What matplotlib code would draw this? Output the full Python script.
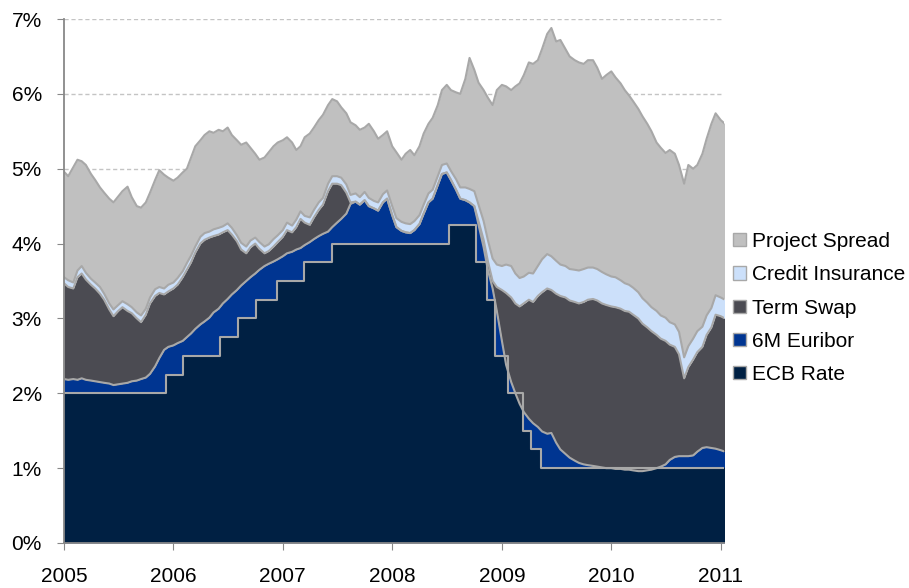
import numpy as np
import pandas as pd
import matplotlib
matplotlib.use('Agg')
import matplotlib.pyplot as plt
import matplotlib.dates as mdates
from matplotlib.patches import Patch

plt.rcParams['font.family'] = ['Liberation Sans', 'DejaVu Sans']

# half-monthly observations (1st and 15th), Jan 2005 .. mid Jan 2011
dates = pd.date_range('2005-01-01', periods=146, freq='SMS')

# ECB main refinancing rate, step changes
ecb_dates = pd.to_datetime(['2005-01-01', '2005-12-06', '2006-02-03', '2006-06-07',
                            '2006-08-04', '2006-10-04', '2006-12-13', '2007-03-14',
                            '2007-06-13', '2008-07-09', '2008-10-08', '2008-11-12',
                            '2008-12-10', '2009-01-21', '2009-03-11', '2009-04-08',
                            '2009-05-13', '2011-01-31'])
ecb_rate = [2.00, 2.25, 2.50, 2.75, 3.00, 3.25, 3.50, 3.75, 4.00, 4.25, 3.75, 3.25,
            2.50, 2.00, 1.50, 1.25, 1.00, 1.00]

# 6M Euribor level (%)
euribor_6m = [
    2.19, 2.18, 2.19, 2.18, 2.20, 2.18, 2.17, 2.16, 2.15, 2.14, 2.13, 2.11,
    2.12, 2.13, 2.14, 2.16, 2.17, 2.19, 2.21, 2.26, 2.36, 2.47, 2.58, 2.62,
    2.64, 2.67, 2.70, 2.75, 2.80, 2.86, 2.92, 2.96, 3.01, 3.08, 3.13, 3.20,
    3.26, 3.32, 3.38, 3.44, 3.50, 3.55, 3.60, 3.65, 3.70, 3.73, 3.76, 3.79,
    3.83, 3.87, 3.89, 3.92, 3.94, 3.98, 4.02, 4.06, 4.10, 4.13, 4.16, 4.22,
    4.28, 4.33, 4.40, 4.53, 4.56, 4.52, 4.58, 4.50, 4.47, 4.44, 4.55, 4.60,
    4.38, 4.22, 4.17, 4.15, 4.14, 4.18, 4.26, 4.40, 4.55, 4.60, 4.78, 4.93,
    4.95, 4.85, 4.72, 4.60, 4.58, 4.55, 4.50, 4.25, 3.95, 3.65, 3.40, 3.10,
    2.70, 2.38, 2.15, 2.00, 1.86, 1.75, 1.66, 1.60, 1.55, 1.49, 1.46, 1.47,
    1.34, 1.25, 1.19, 1.14, 1.10, 1.07, 1.05, 1.04, 1.03, 1.02, 1.01, 1.00,
    1.00, 0.99, 0.99, 0.98, 0.98, 0.97, 0.96, 0.96, 0.97, 0.98, 1.00, 1.02,
    1.05, 1.11, 1.15, 1.16, 1.16, 1.16, 1.17, 1.22, 1.27, 1.28, 1.27, 1.26,
    1.24, 1.22]

# term swap spread over 6M Euribor
term_swap = [
    1.28, 1.24, 1.21, 1.37, 1.40, 1.34, 1.28, 1.24, 1.18, 1.11, 0.99, 0.92,
    0.98, 1.02, 0.96, 0.91, 0.83, 0.76, 0.84, 0.94, 0.94, 0.87, 0.74, 0.74,
    0.76, 0.78, 0.85, 0.90, 0.95, 1.02, 1.08, 1.09, 1.07, 1.02, 0.99, 0.95,
    0.92, 0.80, 0.65, 0.48, 0.37, 0.40, 0.40, 0.28, 0.17, 0.17, 0.20, 0.23,
    0.26, 0.31, 0.26, 0.30, 0.39, 0.30, 0.23, 0.29, 0.35, 0.39, 0.54, 0.58,
    0.52, 0.45, 0.28, 0.02, 0.00, 0.00, 0.00, 0.00, 0.00, 0.00, 0.00, 0.00,
    0.00, 0.00, 0.00, 0.00, 0.00, 0.00, 0.00, 0.00, 0.00, 0.00, 0.00, 0.00,
    0.00, 0.00, 0.00, 0.00, 0.00, 0.00, 0.00, 0.05, 0.10, 0.12, 0.10, 0.32,
    0.68, 0.96, 1.13, 1.20, 1.30, 1.45, 1.59, 1.62, 1.75, 1.86, 1.94, 1.91,
    1.99, 2.05, 2.09, 2.10, 2.12, 2.13, 2.17, 2.21, 2.23, 2.22, 2.19, 2.18,
    2.16, 2.16, 2.14, 2.12, 2.11, 2.08, 2.04, 1.97, 1.91, 1.85, 1.78, 1.71,
    1.65, 1.54, 1.47, 1.36, 1.04, 1.19, 1.28, 1.33, 1.35, 1.50, 1.61, 1.79,
    1.79, 1.78]

# credit insurance spread
credit_ins = [
    0.08, 0.09, 0.08, 0.09, 0.10, 0.09, 0.08, 0.08, 0.09, 0.08, 0.08, 0.09,
    0.08, 0.08, 0.09, 0.08, 0.08, 0.09, 0.08, 0.08, 0.09, 0.08, 0.08, 0.09,
    0.08, 0.09, 0.08, 0.09, 0.09, 0.08, 0.09, 0.09, 0.08, 0.09, 0.09, 0.08,
    0.09, 0.09, 0.08, 0.09, 0.09, 0.09, 0.08, 0.09, 0.09, 0.09, 0.10, 0.09,
    0.09, 0.10, 0.09, 0.10, 0.10, 0.09, 0.10, 0.10, 0.10, 0.09, 0.10, 0.10,
    0.10, 0.10, 0.11, 0.10, 0.11, 0.10, 0.11, 0.11, 0.10, 0.11, 0.11, 0.11,
    0.12, 0.12, 0.12, 0.12, 0.12, 0.12, 0.12, 0.12, 0.12, 0.12, 0.12, 0.12,
    0.12, 0.12, 0.14, 0.15, 0.17, 0.18, 0.20, 0.22, 0.25, 0.28, 0.30, 0.30,
    0.32, 0.38, 0.42, 0.40, 0.38, 0.36, 0.36, 0.38, 0.40, 0.44, 0.46, 0.45,
    0.44, 0.42, 0.42, 0.42, 0.43, 0.44, 0.44, 0.43, 0.42, 0.42, 0.42, 0.41,
    0.40, 0.40, 0.38, 0.37, 0.36, 0.36, 0.35, 0.34, 0.33, 0.32, 0.32, 0.31,
    0.31, 0.30, 0.30, 0.30, 0.28, 0.28, 0.28, 0.28, 0.27, 0.26, 0.26, 0.26,
    0.25, 0.25]

# all-in project rate (top of the stack)
all_in = [
    4.96, 4.90, 5.02, 5.12, 5.10, 5.05, 4.93, 4.85, 4.75, 4.68, 4.60, 4.55,
    4.63, 4.70, 4.76, 4.62, 4.50, 4.48, 4.55, 4.68, 4.85, 4.98, 4.92, 4.88,
    4.84, 4.88, 4.95, 5.00, 5.15, 5.30, 5.38, 5.45, 5.50, 5.48, 5.52, 5.50,
    5.55, 5.45, 5.38, 5.32, 5.35, 5.28, 5.20, 5.12, 5.15, 5.22, 5.30, 5.35,
    5.38, 5.42, 5.35, 5.25, 5.30, 5.42, 5.47, 5.55, 5.65, 5.72, 5.85, 5.93,
    5.90, 5.82, 5.74, 5.62, 5.58, 5.52, 5.55, 5.60, 5.50, 5.40, 5.45, 5.50,
    5.30, 5.22, 5.12, 5.20, 5.25, 5.18, 5.30, 5.47, 5.60, 5.68, 5.85, 6.05,
    6.12, 6.05, 6.02, 6.00, 6.20, 6.48, 6.32, 6.15, 6.05, 5.95, 5.85, 6.05,
    6.12, 6.10, 6.05, 6.10, 6.14, 6.25, 6.42, 6.40, 6.45, 6.60, 6.80, 6.88,
    6.70, 6.72, 6.60, 6.50, 6.45, 6.42, 6.40, 6.45, 6.45, 6.35, 6.20, 6.25,
    6.30, 6.22, 6.14, 6.05, 5.98, 5.90, 5.80, 5.70, 5.60, 5.50, 5.35, 5.28,
    5.21, 5.25, 5.20, 5.05, 4.80, 5.05, 5.00, 5.05, 5.20, 5.40, 5.60, 5.74,
    5.65, 5.60]

labels = ['Project Spread', 'Credit Insurance', 'Term Swap', '6M Euribor', 'ECB Rate']
colors = ['#c0c0c0', '#cce0fa', '#4b4b52', '#003591', '#002043']
edge = '#a8a8a8'

eur = np.array(euribor_6m)
swap_top = eur + np.array(term_swap)
ins_top = swap_top + np.array(credit_ins)
top = np.maximum(np.array(all_in), ins_top)

fig = plt.figure(figsize=(9.09, 5.88), dpi=100)
ax = fig.add_axes([64 / 909, 1 - 543 / 588, 660 / 909, 524 / 588])

ax.fill_between(dates, 0, eur, color=colors[3], lw=0, zorder=2)
ax.fill_between(ecb_dates, 0, ecb_rate, step='post', color=colors[4], lw=0, zorder=2.5)
ax.fill_between(dates, eur, swap_top, color=colors[2], lw=0, zorder=3)
ax.fill_between(dates, swap_top, ins_top, color=colors[1], lw=0, zorder=3)
ax.fill_between(dates, ins_top, top, color=colors[0], lw=0, zorder=3)

for y in [eur, swap_top, ins_top, top]:
    ax.plot(dates, y, color=edge, lw=1.5, zorder=5)
ax.plot(ecb_dates, ecb_rate, drawstyle='steps-post', color=edge, lw=1.5, zorder=6)

ax.set_ylim(0, 7)
ax.set_xlim(dates[0], pd.Timestamp('2011-01-12'))
ax.set_yticks(range(8))
ax.set_yticklabels([f'{v}%' for v in range(8)])
ax.xaxis.set_major_locator(mdates.YearLocator())
ax.xaxis.set_major_formatter(mdates.DateFormatter('%Y'))

ax.yaxis.grid(True, linestyle=(0, (3, 2)), color='#c4c4c4', lw=1)
ax.set_axisbelow(True)
for s in ['top', 'right']:
    ax.spines[s].set_visible(False)
for s in ['left', 'bottom']:
    ax.spines[s].set_color('#888888')
    ax.spines[s].set_linewidth(1.3)
    ax.spines[s].set_zorder(7)
ax.tick_params(axis='y', direction='out', length=5, color='#888888', labelsize=15, pad=11)
ax.tick_params(axis='x', direction='out', length=5, color='#888888', labelsize=15, pad=12)

handles = [Patch(facecolor=c, edgecolor=edge, lw=1) for c in colors]
fig.legend(handles, labels, loc='center left', bbox_to_anchor=(733 / 909, 1 - 308 / 588),
           frameon=False, fontsize=15, borderpad=0, borderaxespad=0,
           handlelength=0.6, handleheight=0.6, handletextpad=0.3, labelspacing=0.68)

fig.savefig('out.png', dpi=100)
